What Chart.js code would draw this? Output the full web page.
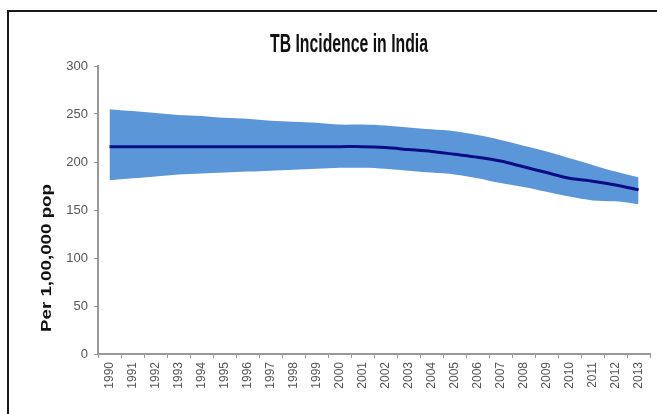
<!DOCTYPE html>
<html>
<head>
<meta charset="utf-8">
<script src="https://cdn.jsdelivr.net/npm/chart.js@4/dist/chart.umd.min.js"></script>
<style>
  html, body { margin: 0; padding: 0; background: #fff; }
  #wrap { width: 657px; height: 414px; }
</style>
</head>
<body>
<div id="wrap"><canvas id="tb"></canvas></div>
<script>
// TB incidence, per 1,00,000 population
const years = ["1990", "1991", "1992", "1993", "1994", "1995", "1996", "1997", "1998", "1999", "2000", "2001",
  "2002", "2003", "2004", "2005", "2006", "2007", "2008", "2009", "2010", "2011", "2012", "2013"];
const incidence = [216, 216, 216, 216, 216, 216, 216, 216, 216, 216, 216, 216,
  215, 213, 211, 208, 205, 201, 195, 189, 183, 180, 176, 171];
const upperBound = [255, 253, 251, 249, 248, 246, 245, 243, 242, 241, 239, 239,
  238, 236, 234, 232, 228, 223, 217, 211, 204, 197, 190, 184];
const lowerBound = [181, 183, 185, 187, 188, 189, 190, 191, 192, 193, 194, 194,
  193, 191, 189, 187, 183, 178, 174, 169, 164, 160, 159, 156];
const yTicks = [0, 50, 100, 150, 200, 250, 300];

const chartTitle = "TB Incidence in India";
const yTitle = "Per 1,00,000 pop";

// frame + stretched titles, the source image is squashed sideways
const decor = {
  id: "decor",
  beforeDraw(chart) {
    const ctx = chart.ctx;
    ctx.save();
    ctx.fillStyle = "#fff";
    ctx.fillRect(0, 0, chart.width, chart.height);
    ctx.strokeStyle = "#1a1a1a";
    ctx.lineWidth = 2;
    ctx.beginPath();
    ctx.moveTo(8, chart.height);
    ctx.lineTo(8, 11);
    ctx.lineTo(chart.width, 11);
    ctx.stroke();
    ctx.restore();
  },
  afterDraw(chart) {
    const ctx = chart.ctx;
    ctx.save();
    ctx.fillStyle = "#111";
    ctx.textAlign = "center";
    ctx.textBaseline = "middle";

    ctx.font = "bold 25px 'Liberation Sans', Arial, sans-serif";
    let w = ctx.measureText(chartTitle).width;
    ctx.translate(349, 45);
    ctx.scale(158 / w, 1);
    ctx.fillText(chartTitle, 0, 0);
    ctx.restore();

    ctx.save();
    ctx.fillStyle = "#111";
    ctx.textAlign = "center";
    ctx.textBaseline = "middle";
    ctx.font = "bold 14px 'Liberation Sans', Arial, sans-serif";
    w = ctx.measureText(yTitle).width;
    ctx.translate(47, 258);
    ctx.rotate(-Math.PI / 2);
    ctx.scale(148 / w, 1);
    ctx.fillText(yTitle, 0, 0);
    ctx.restore();
  }
};

new Chart(document.getElementById("tb"), {
  type: "line",
  data: {
    labels: years,
    datasets: [
      {
        label: "Incidence",
        data: incidence,
        borderColor: "#0c0c86",
        borderWidth: 3,
        pointRadius: 0,
        fill: false,
        tension: 0.3,
        order: 0,
      },
      {
        label: "Upper",
        data: upperBound,
        borderWidth: 0,
        borderColor: "rgba(0,0,0,0)",
        backgroundColor: "#5b96d8",
        pointRadius: 0,
        fill: "+1",
        tension: 0.3,
        order: 1,
      },
      {
        label: "Lower",
        data: lowerBound,
        borderWidth: 0,
        borderColor: "rgba(0,0,0,0)",
        pointRadius: 0,
        fill: false,
        tension: 0.3,
        order: 2,
      },
    ],
  },
  plugins: [decor],
  options: {
    responsive: true,
    maintainAspectRatio: false,
    animation: false,
    layout: { padding: { top: 66, right: 2, left: 0, bottom: 0 } },
    plugins: {
      legend: { display: false },
      tooltip: { enabled: false },
    },
    scales: {
      x: {
        offset: true,
        grid: { offset: true, drawOnChartArea: false, drawTicks: true, tickLength: 4, color: "#999" },
        border: { color: "#999", width: 2 },
        ticks: {
          minRotation: 90,
          maxRotation: 90,
          autoSkip: false,
          padding: 4,
          color: "#555",
          font: { family: "'Liberation Sans', Arial, sans-serif", size: 12 },
        },
        afterFit(scale) { scale.height = 60; },
      },
      y: {
        min: 0,
        max: 300,
        afterBuildTicks(scale) { scale.ticks = yTicks.map(v => ({ value: v })); },
        grid: { drawOnChartArea: false, drawTicks: true, tickLength: 4, color: "#999" },
        border: { color: "#999", width: 2 },
        ticks: {
          padding: 6,
          color: "#555",
          font: { family: "'Liberation Sans', Arial, sans-serif", size: 13 },
        },
        afterFit(scale) { scale.width = 98; },
      },
    },
  },
});
</script>
</body>
</html>
